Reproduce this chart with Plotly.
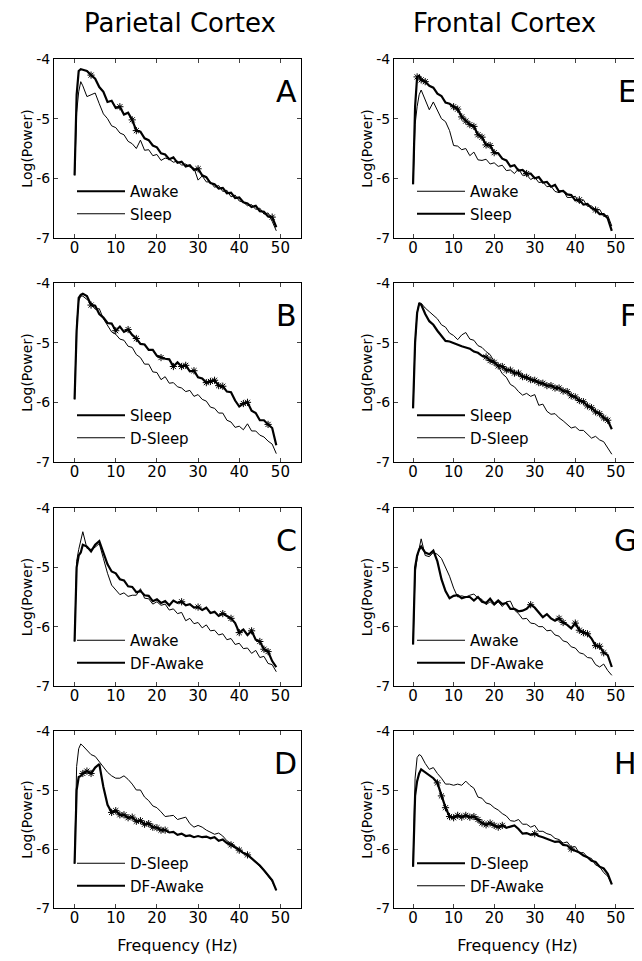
import plotly.graph_objects as go
from plotly.subplots import make_subplots

# frequency grid (Hz)
FREQ = [0, 0.5, 1, 1.5] + list(range(2, 50))

# ---- Parietal cortex ----
A_AWAKE = [-5.95, -4.6, -4.2, -4.17, -4.18, -4.2, -4.27, -4.33, -4.47, -4.55, -4.72, -4.7, -4.82, -4.8,
           -4.93, -4.9, -5.02, -5.2, -5.22, -5.33, -5.36, -5.45, -5.48, -5.58, -5.6, -5.68, -5.65, -5.74,
           -5.72, -5.8, -5.78, -5.86, -5.84, -5.95, -5.98, -6.08, -6.1, -6.17, -6.16, -6.25, -6.24, -6.33,
           -6.32, -6.4, -6.42, -6.48, -6.46, -6.55, -6.56, -6.64, -6.65, -6.82]
A_SLEEP = [-5.95, -4.9, -4.55, -4.38, -4.45, -4.63, -4.6, -4.57, -4.75, -4.92, -5.0, -5.12, -5.15, -5.24,
           -5.27, -5.38, -5.42, -5.5, -5.36, -5.53, -5.52, -5.62, -5.6, -5.7, -5.66, -5.68, -5.73, -5.71,
           -5.78, -5.76, -5.81, -5.83, -6.03, -5.96, -6.06, -6.06, -6.15, -6.12, -6.22, -6.2, -6.31, -6.28,
           -6.38, -6.4, -6.46, -6.44, -6.52, -6.5, -6.6, -6.58, -6.72, -6.88]
B_SLEEP = [-5.95, -4.8, -4.25, -4.2, -4.18, -4.22, -4.37, -4.38, -4.52, -4.58, -4.67, -4.68, -4.8, -4.73,
           -4.82, -4.78, -4.87, -4.93, -5.02, -5.03, -5.12, -5.12, -5.22, -5.25, -5.27, -5.28, -5.4, -5.33,
           -5.4, -5.38, -5.48, -5.47, -5.58, -5.6, -5.67, -5.65, -5.63, -5.72, -5.73, -5.82, -5.83, -5.97,
           -6.07, -6.02, -6.0, -6.14, -6.18, -6.3, -6.3, -6.37, -6.43, -6.72]
B_DSLEEP = [-5.95, -4.7, -4.3, -4.22, -4.22, -4.27, -4.33, -4.44, -4.43, -4.6, -4.7, -4.82, -4.86, -4.94,
            -4.96, -5.06, -5.08, -5.2, -5.25, -5.36, -5.36, -5.49, -5.5, -5.62, -5.57, -5.68, -5.67, -5.74,
            -5.76, -5.82, -5.8, -5.9, -5.87, -5.95, -5.98, -6.08, -6.1, -6.18, -6.18, -6.3, -6.33, -6.42,
            -6.4, -6.46, -6.36, -6.48, -6.48, -6.55, -6.58, -6.65, -6.7, -6.86]
C_AWAKE = [-6.25, -4.9, -4.7, -4.55, -4.4, -4.68, -4.7, -4.66, -4.6, -4.85, -5.1, -5.3, -5.38, -5.46,
           -5.43, -5.49, -5.47, -5.47, -5.36, -5.52, -5.53, -5.62, -5.58, -5.64, -5.62, -5.72, -5.7, -5.78,
           -5.76, -5.9, -5.86, -5.95, -5.93, -6.02, -5.97, -6.07, -6.06, -6.14, -6.12, -6.22, -6.2, -6.3,
           -6.28, -6.37, -6.36, -6.45, -6.4, -6.52, -6.5, -6.62, -6.64, -6.76]
C_DFAWAKE = [-6.25, -5.0, -4.8, -4.75, -4.62, -4.65, -4.73, -4.62, -4.56, -4.75, -4.95, -5.07, -5.1, -5.2,
             -5.22, -5.32, -5.33, -5.42, -5.4, -5.47, -5.48, -5.57, -5.54, -5.6, -5.57, -5.64, -5.56, -5.6,
             -5.58, -5.64, -5.62, -5.68, -5.67, -5.72, -5.68, -5.77, -5.75, -5.82, -5.78, -5.82, -5.86, -5.94,
             -6.1, -6.05, -6.14, -6.07, -6.22, -6.25, -6.38, -6.42, -6.58, -6.68]
D_DSLEEP = [-6.25, -4.6, -4.3, -4.22, -4.25, -4.33, -4.4, -4.43, -4.52, -4.6, -4.7, -4.76, -4.8, -4.8,
            -4.76, -4.82, -4.9, -5.0, -5.0, -5.12, -5.18, -5.27, -5.3, -5.37, -5.45, -5.44, -5.43, -5.5,
            -5.48, -5.46, -5.57, -5.63, -5.6, -5.63, -5.68, -5.72, -5.75, -5.73, -5.78, -5.86, -5.9, -5.95,
            -6.0, -6.06, -6.09, -6.15, -6.22, -6.3, -6.36, -6.46, -6.55, -6.7]
D_DFAWAKE = [-6.25, -5.0, -4.78, -4.76, -4.72, -4.68, -4.72, -4.62, -4.56, -4.95, -5.25, -5.38, -5.35, -5.42,
             -5.42, -5.47, -5.46, -5.53, -5.52, -5.58, -5.57, -5.63, -5.64, -5.68, -5.68, -5.72, -5.71, -5.76,
             -5.74, -5.78, -5.77, -5.8, -5.78, -5.8, -5.79, -5.82, -5.8, -5.86, -5.84, -5.9, -5.93, -5.97,
             -6.02, -6.07, -6.1, -6.16, -6.22, -6.28, -6.36, -6.44, -6.53, -6.7]

# ---- Frontal cortex ----
E_AWAKE = [-6.1, -5.1, -4.8, -4.6, -4.52, -4.7, -4.85, -4.72, -4.86, -5.0, -5.05, -5.2, -5.45, -5.46,
           -5.52, -5.5, -5.62, -5.56, -5.69, -5.7, -5.68, -5.76, -5.74, -5.8, -5.78, -5.87, -5.86, -5.92,
           -5.84, -5.95, -5.94, -6.02, -5.98, -6.07, -6.06, -6.14, -6.13, -6.22, -6.24, -6.2, -6.32, -6.32,
           -6.3, -6.42, -6.36, -6.47, -6.46, -6.53, -6.52, -6.64, -6.62, -6.8]
E_SLEEP = [-6.1, -4.8, -4.3, -4.28, -4.35, -4.38, -4.45, -4.48, -4.58, -4.62, -4.73, -4.75, -4.8, -4.84,
           -4.97, -5.04, -5.1, -5.13, -5.27, -5.31, -5.44, -5.45, -5.57, -5.58, -5.67, -5.7, -5.8, -5.78,
           -5.87, -5.86, -5.92, -5.92, -6.0, -5.98, -6.07, -6.06, -6.14, -6.11, -6.22, -6.21, -6.27, -6.28,
           -6.37, -6.36, -6.44, -6.43, -6.5, -6.53, -6.6, -6.6, -6.67, -6.88]
F_SLEEP = [-6.1, -5.0, -4.5, -4.35, -4.36, -4.52, -4.64, -4.7, -4.8, -4.88, -4.97, -4.98, -5.01, -5.03,
           -5.06, -5.08, -5.1, -5.15, -5.17, -5.22, -5.24, -5.3, -5.33, -5.39, -5.4, -5.46, -5.46, -5.51,
           -5.51, -5.57, -5.58, -5.62, -5.63, -5.67, -5.68, -5.72, -5.72, -5.76, -5.76, -5.81, -5.82, -5.89,
           -5.91, -5.97, -5.99, -6.06, -6.09, -6.16, -6.19, -6.26, -6.3, -6.45]
F_DSLEEP = [-6.1, -5.0, -4.5, -4.33, -4.34, -4.42, -4.48, -4.54, -4.6, -4.7, -4.74, -4.84, -4.88, -4.95,
            -4.87, -4.83, -4.94, -4.96, -5.05, -5.08, -5.15, -5.2, -5.32, -5.4, -5.52, -5.58, -5.7, -5.74,
            -5.82, -5.88, -5.85, -5.9, -5.87, -6.05, -6.03, -6.15, -6.2, -6.19, -6.26, -6.31, -6.37, -6.43,
            -6.41, -6.47, -6.47, -6.53, -6.6, -6.57, -6.63, -6.66, -6.76, -6.87]
G_AWAKE = [-6.3, -5.1, -4.85, -4.7, -4.52, -4.8, -4.82, -4.75, -4.78, -4.85, -5.0, -5.15, -5.35, -5.5,
           -5.48, -5.5, -5.47, -5.45, -5.52, -5.54, -5.63, -5.58, -5.64, -5.58, -5.66, -5.58, -5.57, -5.72,
           -5.78, -5.87, -5.86, -5.94, -5.95, -6.0, -6.0, -6.07, -6.06, -6.14, -6.16, -6.24, -6.26, -6.34,
           -6.36, -6.44, -6.46, -6.52, -6.53, -6.64, -6.68, -6.63, -6.74, -6.82]
G_DFAWAKE = [-6.3, -5.0, -4.8, -4.7, -4.65, -4.75, -4.78, -4.72, -4.9, -5.2, -5.4, -5.52, -5.48, -5.47,
             -5.52, -5.5, -5.5, -5.56, -5.5, -5.58, -5.6, -5.53, -5.62, -5.56, -5.62, -5.6, -5.7, -5.7,
             -5.74, -5.73, -5.7, -5.63, -5.68, -5.77, -5.84, -5.79, -5.86, -5.9, -5.86, -5.93, -5.97, -6.03,
             -5.94, -6.06, -6.1, -6.12, -6.2, -6.32, -6.33, -6.44, -6.48, -6.68]
H_DSLEEP = [-6.3, -5.1, -4.85, -4.72, -4.65, -4.7, -4.75, -4.8, -4.88, -5.1, -5.3, -5.45, -5.47, -5.43,
            -5.46, -5.43, -5.46, -5.45, -5.5, -5.56, -5.59, -5.56, -5.6, -5.63, -5.6, -5.64, -5.62, -5.6,
            -5.66, -5.74, -5.73, -5.76, -5.74, -5.78, -5.8, -5.83, -5.85, -5.88, -5.87, -5.93, -5.94, -6.0,
            -6.03, -6.06, -6.11, -6.14, -6.2, -6.22, -6.3, -6.33, -6.42, -6.6]
H_DFAWAKE = [-6.3, -4.8, -4.45, -4.4, -4.42, -4.55, -4.65, -4.62, -4.72, -4.8, -4.9, -4.9, -4.92, -4.9,
             -4.92, -4.85, -4.92, -4.97, -5.12, -5.14, -5.22, -5.24, -5.3, -5.34, -5.4, -5.44, -5.52, -5.53,
             -5.5, -5.58, -5.58, -5.63, -5.6, -5.7, -5.7, -5.74, -5.76, -5.82, -5.84, -5.9, -5.88, -5.97,
             -5.96, -6.07, -6.06, -6.14, -6.16, -6.27, -6.3, -6.4, -6.46, -6.6]

# frequencies marked with an asterisk (on the thick curve)
STAR_A = [4, 11, 14, 15, 30, 48]
STAR_B = [4, 10, 13, 15, 21, 24, 26, 27, 29, 32, 33, 34, 35, 36, 41, 42, 47]
STAR_C = [26, 30, 36, 38, 40, 43, 45, 46, 47]
STAR_D = [2, 3, 4, 9, 10, 11, 12, 13, 14, 15, 16, 17, 18, 19, 20, 21, 22, 38, 40, 42]
STAR_E = [1, 2, 3, 10, 11, 12, 13, 14, 15, 16, 17, 18, 19, 20, 28, 41, 45]
STAR_F = [18, 19, 20, 21, 22, 23, 24, 25, 26, 27, 28, 29, 30, 31, 32, 33, 34, 35, 36, 37, 38, 39, 40,
          41, 42, 43, 44, 45, 46, 47, 48]
STAR_G = [29, 36, 37, 40, 41, 42, 43, 45, 46, 47]
STAR_H = [6, 7, 8, 9, 10, 11, 12, 13, 14, 15, 16, 17, 18, 19, 20, 21, 22, 30, 39]

Y_TICKS = [-7, -6, -5, -4]
Y_TICKTEXT = ["-7", "-6", "-5", "-4"]
X_TICKS = [0, 10, 20, 30, 40, 50]

# (letter, row, col, [(name, values, thick)], stars)
PANELS = [
    ("A", 1, 1, [("Awake", A_AWAKE, True), ("Sleep", A_SLEEP, False)], STAR_A),
    ("B", 2, 1, [("Sleep", B_SLEEP, True), ("D-Sleep", B_DSLEEP, False)], STAR_B),
    ("C", 3, 1, [("Awake", C_AWAKE, False), ("DF-Awake", C_DFAWAKE, True)], STAR_C),
    ("D", 4, 1, [("D-Sleep", D_DSLEEP, False), ("DF-Awake", D_DFAWAKE, True)], STAR_D),
    ("E", 1, 2, [("Awake", E_AWAKE, False), ("Sleep", E_SLEEP, True)], STAR_E),
    ("F", 2, 2, [("Sleep", F_SLEEP, True), ("D-Sleep", F_DSLEEP, False)], STAR_F),
    ("G", 3, 2, [("Awake", G_AWAKE, False), ("DF-Awake", G_DFAWAKE, True)], STAR_G),
    ("H", 4, 2, [("D-Sleep", H_DSLEEP, True), ("DF-Awake", H_DFAWAKE, False)], STAR_H),
]

for p in PANELS:
    for name, vals, _ in p[3]:
        if len(vals) != len(FREQ):
            raise ValueError(f"{p[0]} {name}: {len(vals)} values")

# page puts the plot 8px in from the top-left corner
OFF = 8
W, H = 634, 953
FONT = "DejaVu Sans, sans-serif"
COL_PX = {1: (54, 301), 2: (394, 641)}
ROW_PX = {1: (59, 238), 2: (283, 462), 3: (508, 686), 4: (731, 908)}


def fx(px):
    return (px - OFF) / W


def fy(py):
    return 1 - (py - OFF) / H


fig = make_subplots(rows=4, cols=2)

for i, (letter, row, col, series, stars) in enumerate(PANELS):
    leg = "legend" if i == 0 else f"legend{i + 1}"
    for name, vals, thick in series:
        fig.add_trace(go.Scatter(x=FREQ, y=vals, mode="lines", name=name, legend=leg,
                                 line=dict(color="black", width=2.2 if thick else 1.0)),
                      row=row, col=col)
    thick_vals = [v for _, v, t in series if t][0]
    fig.add_trace(go.Scatter(x=stars, y=[thick_vals[FREQ.index(f)] for f in stars], mode="markers",
                             showlegend=False,
                             marker=dict(symbol="asterisk-open", size=6, color="black",
                                         line=dict(color="black", width=1))),
                  row=row, col=col)

    x0, x1 = COL_PX[col]
    y0, y1 = ROW_PX[row]
    fig.update_xaxes(domain=[fx(x0), fx(x1)], row=row, col=col)
    fig.update_yaxes(domain=[fy(y1), fy(y0)], row=row, col=col)

    # per-panel legend
    fig.update_layout({leg: dict(x=fx(x0 + 18), y=fy(y0 + 116), xanchor="left", yanchor="top",
                                 bgcolor="rgba(0,0,0,0)", font=dict(size=15, family=FONT, color="black"),
                                 itemwidth=48, tracegroupgap=4)})

    ax = fig.get_subplot(row, col)
    fig.add_annotation(text=letter, xref=f"{ax.xaxis.plotly_name.replace('axis', '')} domain",
                       yref=f"{ax.yaxis.plotly_name.replace('axis', '')} domain",
                       x=0.99, y=0.925, xanchor="right", yanchor="top", showarrow=False,
                       font=dict(size=30, family=FONT, color="black"))

fig.update_xaxes(range=[-5, 55], tickvals=X_TICKS, ticks="inside", ticklen=4, showline=True,
                 linecolor="black", linewidth=1, mirror="ticks", showgrid=False, zeroline=False,
                 automargin=False, ticklabelstandoff=-4,
                 tickfont=dict(size=15, family=FONT, color="black"))
fig.update_xaxes(range=[-4.7, 56.2], col=2)
fig.update_yaxes(range=[-7, -4], tickvals=Y_TICKS, ticktext=Y_TICKTEXT, ticks="inside", ticklen=4,
                 showline=True, linecolor="black", linewidth=1, mirror="ticks", showgrid=False,
                 zeroline=False, automargin=False, tickfont=dict(size=14, family=FONT, color="black"),
                 title=dict(text="Log(Power)", font=dict(size=14, family=FONT, color="black"), standoff=0))
fig.update_xaxes(title=dict(text="Frequency (Hz)", font=dict(size=16, family=FONT, color="black"),
                            standoff=13), row=4)

fig.add_annotation(text="Parietal Cortex", xref="paper", yref="paper", x=fx(180), y=fy(23),
                   xanchor="center", yanchor="middle", showarrow=False,
                   font=dict(size=26, family=FONT, color="black"))
fig.add_annotation(text="Frontal Cortex", xref="paper", yref="paper", x=fx(504), y=fy(23),
                   xanchor="center", yanchor="middle", showarrow=False,
                   font=dict(size=26, family=FONT, color="black"))

fig.update_layout(width=W, height=H, margin=dict(l=0, r=0, t=0, b=0),
                  paper_bgcolor="white", plot_bgcolor="white", font=dict(family=FONT, color="black"))

fig.write_html("out.html")
